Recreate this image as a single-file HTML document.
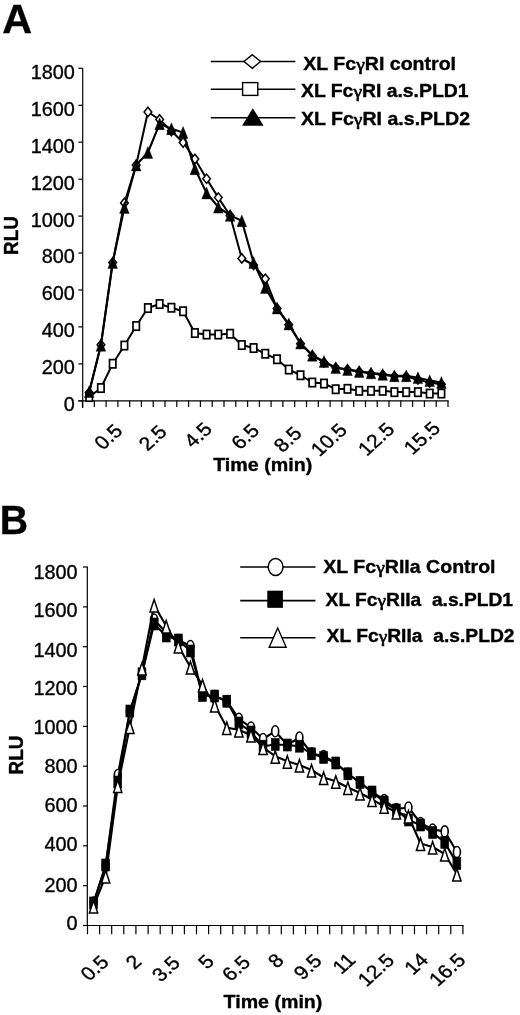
<!DOCTYPE html>
<html lang="en"><head><meta charset="utf-8"><title>Figure: RLU time course</title>
<style>html,body{margin:0;padding:0;background:#fff}body{width:520px;height:1015px;overflow:hidden}svg{display:block}text{font-family:'Liberation Sans', Arial, Helvetica, sans-serif;fill:#000;stroke:#000;stroke-width:.35px}.g{font-family:"Liberation Serif",serif;font-weight:400;stroke-width:.6px}</style>
</head><body>
<svg width="520" height="1015" viewBox="0 0 520 1015">
<rect width="520" height="1015" fill="#fff"/>
<g id="panelA">
<text font-size="41" font-weight="700" transform="translate(2.3 32.6) scale(1.01 1)">A</text>
<g stroke="#000" stroke-width="1.2" fill="none">
<path d="M82.7 68.3V408.0"/>
<path d="M78.4 400.8H448.6"/>
<path d="M78.4 400.8H82.7"/>
<path d="M78.4 363.9H82.7"/>
<path d="M78.4 326.9H82.7"/>
<path d="M78.4 290.0H82.7"/>
<path d="M78.4 253.0H82.7"/>
<path d="M78.4 216.1H82.7"/>
<path d="M78.4 179.2H82.7"/>
<path d="M78.4 142.2H82.7"/>
<path d="M78.4 105.3H82.7"/>
<path d="M78.4 68.3H82.7"/>
<path d="M82.5 400.8V407.1"/>
<path d="M94.3 400.8V407.1"/>
<path d="M106.1 400.8V407.1"/>
<path d="M117.9 400.8V407.1"/>
<path d="M129.7 400.8V407.1"/>
<path d="M141.4 400.8V407.1"/>
<path d="M153.2 400.8V407.1"/>
<path d="M165.0 400.8V407.1"/>
<path d="M176.8 400.8V407.1"/>
<path d="M188.6 400.8V407.1"/>
<path d="M200.4 400.8V407.1"/>
<path d="M212.2 400.8V407.1"/>
<path d="M224.0 400.8V407.1"/>
<path d="M235.8 400.8V407.1"/>
<path d="M247.6 400.8V407.1"/>
<path d="M259.4 400.8V407.1"/>
<path d="M271.1 400.8V407.1"/>
<path d="M282.9 400.8V407.1"/>
<path d="M294.7 400.8V407.1"/>
<path d="M306.5 400.8V407.1"/>
<path d="M318.3 400.8V407.1"/>
<path d="M330.1 400.8V407.1"/>
<path d="M341.9 400.8V407.1"/>
<path d="M353.7 400.8V407.1"/>
<path d="M365.5 400.8V407.1"/>
<path d="M377.2 400.8V407.1"/>
<path d="M389.0 400.8V407.1"/>
<path d="M400.8 400.8V407.1"/>
<path d="M412.6 400.8V407.1"/>
<path d="M424.4 400.8V407.1"/>
<path d="M436.2 400.8V407.1"/>
<path d="M448.0 400.8V407.1"/>
</g>
<text font-size="19.6" text-anchor="end" transform="translate(74.8 411.2) scale(1.013 1)">0</text>
<text font-size="19.6" text-anchor="end" transform="translate(74.8 374.3) scale(1.013 1)">200</text>
<text font-size="19.6" text-anchor="end" transform="translate(74.8 337.3) scale(1.013 1)">400</text>
<text font-size="19.6" text-anchor="end" transform="translate(74.8 300.4) scale(1.013 1)">600</text>
<text font-size="19.6" text-anchor="end" transform="translate(74.8 263.4) scale(1.013 1)">800</text>
<text font-size="19.6" text-anchor="end" transform="translate(74.8 226.5) scale(1.013 1)">1000</text>
<text font-size="19.6" text-anchor="end" transform="translate(74.8 189.6) scale(1.013 1)">1200</text>
<text font-size="19.6" text-anchor="end" transform="translate(74.8 152.6) scale(1.013 1)">1400</text>
<text font-size="19.6" text-anchor="end" transform="translate(74.8 115.7) scale(1.013 1)">1600</text>
<text font-size="19.6" text-anchor="end" transform="translate(74.8 78.7) scale(1.013 1)">1800</text>
<text font-size="18.9" font-weight="700" transform="translate(18.4 255.0) scale(1.04 1) rotate(-90)">RLU</text>
<text font-size="19.0" text-anchor="end" transform="translate(123.8 432.1) scale(1.11 1) rotate(-45)">0.5</text>
<text font-size="19.0" text-anchor="end" transform="translate(168.1 433.0) scale(1.11 1) rotate(-45)">2.5</text>
<text font-size="19.0" text-anchor="end" transform="translate(213.4 430.2) scale(1.11 1) rotate(-45)">4.5</text>
<text font-size="19.0" text-anchor="end" transform="translate(260.6 431.9) scale(1.11 1) rotate(-45)">6.5</text>
<text font-size="19.0" text-anchor="end" transform="translate(303.1 434.5) scale(1.11 1) rotate(-45)">8.5</text>
<text font-size="19.0" text-anchor="end" transform="translate(348.4 431.2) scale(1.11 1) rotate(-45)">10.5</text>
<text font-size="19.0" text-anchor="end" transform="translate(395.8 430.6) scale(1.11 1) rotate(-45)">12.5</text>
<text font-size="19.0" text-anchor="end" transform="translate(441.6 429.4) scale(1.11 1) rotate(-45)">15.5</text>
<text font-size="17.6" font-weight="700" transform="translate(213.2 471.3) scale(1.118 1)">Time (min)</text>
<polyline fill="none" stroke="#000" stroke-width="2.0" stroke-linejoin="round" points="89.2,392.5 100.9,344.8 112.7,262.5 124.4,203.0 136.2,165.0 147.9,112.0 159.6,119.5 171.4,131.0 183.1,142.5 194.9,159.0 206.6,178.8 218.3,197.6 230.1,215.5 241.8,258.5 253.6,265.0 265.3,278.8 277.0,308.4 288.8,324.8 300.5,343.8 312.3,355.5 324.0,362.5 335.7,367.7 347.5,369.6 359.2,371.5 371.0,373.5 382.7,374.8 394.4,376.3 406.2,376.5 417.9,379.6 429.7,382.6 441.4,384.2"/>
<path d="M89.2 387.9L93.0 392.5L89.2 397.1L85.4 392.5Z" fill="#fff" stroke="#000" stroke-width="1.5"/>
<path d="M100.9 340.2L104.8 344.8L100.9 349.4L97.1 344.8Z" fill="#fff" stroke="#000" stroke-width="1.5"/>
<path d="M112.7 257.9L116.5 262.5L112.7 267.1L108.8 262.5Z" fill="#fff" stroke="#000" stroke-width="1.5"/>
<path d="M124.4 198.3L128.3 203.0L124.4 207.7L120.6 203.0Z" fill="#fff" stroke="#000" stroke-width="1.5"/>
<path d="M136.2 160.3L140.0 165.0L136.2 169.7L132.3 165.0Z" fill="#fff" stroke="#000" stroke-width="1.5"/>
<path d="M147.9 107.3L151.8 112.0L147.9 116.7L144.1 112.0Z" fill="#fff" stroke="#000" stroke-width="1.5"/>
<path d="M159.6 114.8L163.5 119.5L159.6 124.2L155.8 119.5Z" fill="#fff" stroke="#000" stroke-width="1.5"/>
<path d="M171.4 126.3L175.2 131.0L171.4 135.7L167.5 131.0Z" fill="#fff" stroke="#000" stroke-width="1.5"/>
<path d="M183.1 137.8L187.0 142.5L183.1 147.2L179.3 142.5Z" fill="#fff" stroke="#000" stroke-width="1.5"/>
<path d="M194.9 154.3L198.7 159.0L194.9 163.7L191.0 159.0Z" fill="#fff" stroke="#000" stroke-width="1.5"/>
<path d="M206.6 174.1L210.4 178.8L206.6 183.4L202.8 178.8Z" fill="#fff" stroke="#000" stroke-width="1.5"/>
<path d="M218.3 192.9L222.2 197.6L218.3 202.2L214.5 197.6Z" fill="#fff" stroke="#000" stroke-width="1.5"/>
<path d="M230.1 210.8L233.9 215.5L230.1 220.2L226.2 215.5Z" fill="#fff" stroke="#000" stroke-width="1.5"/>
<path d="M241.8 253.8L245.7 258.5L241.8 263.1L238.0 258.5Z" fill="#fff" stroke="#000" stroke-width="1.5"/>
<path d="M253.6 260.4L257.4 265.0L253.6 269.6L249.7 265.0Z" fill="#fff" stroke="#000" stroke-width="1.5"/>
<path d="M265.3 274.1L269.2 278.8L265.3 283.4L261.4 278.8Z" fill="#fff" stroke="#000" stroke-width="1.5"/>
<path d="M277.0 303.8L280.9 308.4L277.0 313.0L273.2 308.4Z" fill="#fff" stroke="#000" stroke-width="1.5"/>
<path d="M288.8 320.2L292.6 324.8L288.8 329.4L284.9 324.8Z" fill="#fff" stroke="#000" stroke-width="1.5"/>
<path d="M300.5 339.1L304.4 343.8L300.5 348.4L296.7 343.8Z" fill="#fff" stroke="#000" stroke-width="1.5"/>
<path d="M312.3 350.9L316.1 355.5L312.3 360.1L308.4 355.5Z" fill="#fff" stroke="#000" stroke-width="1.5"/>
<path d="M324.0 357.9L327.9 362.5L324.0 367.1L320.1 362.5Z" fill="#fff" stroke="#000" stroke-width="1.5"/>
<path d="M335.7 363.1L339.6 367.7L335.7 372.3L331.9 367.7Z" fill="#fff" stroke="#000" stroke-width="1.5"/>
<path d="M347.5 365.0L351.3 369.6L347.5 374.2L343.6 369.6Z" fill="#fff" stroke="#000" stroke-width="1.5"/>
<path d="M359.2 366.9L363.1 371.5L359.2 376.1L355.4 371.5Z" fill="#fff" stroke="#000" stroke-width="1.5"/>
<path d="M371.0 368.9L374.8 373.5L371.0 378.1L367.1 373.5Z" fill="#fff" stroke="#000" stroke-width="1.5"/>
<path d="M382.7 370.2L386.6 374.8L382.7 379.4L378.8 374.8Z" fill="#fff" stroke="#000" stroke-width="1.5"/>
<path d="M394.4 371.7L398.3 376.3L394.4 380.9L390.6 376.3Z" fill="#fff" stroke="#000" stroke-width="1.5"/>
<path d="M406.2 371.9L410.0 376.5L406.2 381.1L402.3 376.5Z" fill="#fff" stroke="#000" stroke-width="1.5"/>
<path d="M417.9 375.0L421.8 379.6L417.9 384.2L414.1 379.6Z" fill="#fff" stroke="#000" stroke-width="1.5"/>
<path d="M429.7 378.0L433.5 382.6L429.7 387.2L425.8 382.6Z" fill="#fff" stroke="#000" stroke-width="1.5"/>
<path d="M441.4 379.6L445.2 384.2L441.4 388.8L437.5 384.2Z" fill="#fff" stroke="#000" stroke-width="1.5"/>
<polyline fill="none" stroke="#000" stroke-width="2.0" stroke-linejoin="round" points="89.2,397.0 100.9,388.0 112.7,363.8 124.4,345.5 136.2,326.0 147.9,308.0 159.6,304.0 171.4,307.8 183.1,311.2 194.9,333.0 206.6,334.5 218.3,334.5 230.1,333.8 241.8,345.0 253.6,348.0 265.3,353.8 277.0,359.2 288.8,369.5 300.5,375.2 312.3,382.5 324.0,383.5 335.7,389.2 347.5,388.8 359.2,390.8 371.0,390.8 382.7,390.8 394.4,392.1 406.2,392.1 417.9,392.1 429.7,393.5 441.4,393.5"/>
<rect x="86.0" y="392.9" width="6.4" height="8.3" fill="#fff" stroke="#000" stroke-width="1.7"/>
<rect x="97.7" y="383.9" width="6.4" height="8.3" fill="#fff" stroke="#000" stroke-width="1.7"/>
<rect x="109.5" y="359.6" width="6.4" height="8.3" fill="#fff" stroke="#000" stroke-width="1.7"/>
<rect x="121.2" y="341.4" width="6.4" height="8.3" fill="#fff" stroke="#000" stroke-width="1.7"/>
<rect x="133.0" y="321.9" width="6.4" height="8.3" fill="#fff" stroke="#000" stroke-width="1.7"/>
<rect x="144.7" y="303.9" width="6.4" height="8.3" fill="#fff" stroke="#000" stroke-width="1.7"/>
<rect x="156.4" y="299.9" width="6.4" height="8.3" fill="#fff" stroke="#000" stroke-width="1.7"/>
<rect x="168.2" y="303.6" width="6.4" height="8.3" fill="#fff" stroke="#000" stroke-width="1.7"/>
<rect x="179.9" y="307.1" width="6.4" height="8.3" fill="#fff" stroke="#000" stroke-width="1.7"/>
<rect x="191.7" y="328.9" width="6.4" height="8.3" fill="#fff" stroke="#000" stroke-width="1.7"/>
<rect x="203.4" y="330.4" width="6.4" height="8.3" fill="#fff" stroke="#000" stroke-width="1.7"/>
<rect x="215.1" y="330.4" width="6.4" height="8.3" fill="#fff" stroke="#000" stroke-width="1.7"/>
<rect x="226.9" y="329.6" width="6.4" height="8.3" fill="#fff" stroke="#000" stroke-width="1.7"/>
<rect x="238.6" y="340.9" width="6.4" height="8.3" fill="#fff" stroke="#000" stroke-width="1.7"/>
<rect x="250.4" y="343.9" width="6.4" height="8.3" fill="#fff" stroke="#000" stroke-width="1.7"/>
<rect x="262.1" y="349.6" width="6.4" height="8.3" fill="#fff" stroke="#000" stroke-width="1.7"/>
<rect x="273.8" y="355.1" width="6.4" height="8.3" fill="#fff" stroke="#000" stroke-width="1.7"/>
<rect x="285.6" y="365.4" width="6.4" height="8.3" fill="#fff" stroke="#000" stroke-width="1.7"/>
<rect x="297.3" y="371.1" width="6.4" height="8.3" fill="#fff" stroke="#000" stroke-width="1.7"/>
<rect x="309.1" y="378.4" width="6.4" height="8.3" fill="#fff" stroke="#000" stroke-width="1.7"/>
<rect x="320.8" y="379.4" width="6.4" height="8.3" fill="#fff" stroke="#000" stroke-width="1.7"/>
<rect x="332.5" y="385.1" width="6.4" height="8.3" fill="#fff" stroke="#000" stroke-width="1.7"/>
<rect x="344.3" y="384.7" width="6.4" height="8.3" fill="#fff" stroke="#000" stroke-width="1.7"/>
<rect x="356.0" y="386.7" width="6.4" height="8.3" fill="#fff" stroke="#000" stroke-width="1.7"/>
<rect x="367.8" y="386.7" width="6.4" height="8.3" fill="#fff" stroke="#000" stroke-width="1.7"/>
<rect x="379.5" y="386.7" width="6.4" height="8.3" fill="#fff" stroke="#000" stroke-width="1.7"/>
<rect x="391.2" y="388.0" width="6.4" height="8.3" fill="#fff" stroke="#000" stroke-width="1.7"/>
<rect x="403.0" y="388.0" width="6.4" height="8.3" fill="#fff" stroke="#000" stroke-width="1.7"/>
<rect x="414.7" y="388.0" width="6.4" height="8.3" fill="#fff" stroke="#000" stroke-width="1.7"/>
<rect x="426.5" y="389.4" width="6.4" height="8.3" fill="#fff" stroke="#000" stroke-width="1.7"/>
<rect x="438.2" y="389.4" width="6.4" height="8.3" fill="#fff" stroke="#000" stroke-width="1.7"/>
<polyline fill="none" stroke="#000" stroke-width="2.1" stroke-linejoin="round" points="89.2,391.6 100.9,345.4 112.7,262.5 124.4,207.5 136.2,165.0 147.9,152.5 159.6,123.8 171.4,128.8 183.1,132.5 194.9,168.8 206.6,193.0 218.3,207.2 230.1,215.4 241.8,220.8 253.6,262.5 265.3,287.5 277.0,308.0 288.8,324.0 300.5,343.0 312.3,355.3 324.0,361.5 335.7,367.7 347.5,369.6 359.2,371.5 371.0,372.9 382.7,374.4 394.4,375.8 406.2,375.8 417.9,377.7 429.7,380.6 441.4,382.5"/>
<path d="M89.2 385.7L94.0 397.5L84.4 397.5Z" fill="#000" stroke="#000" stroke-width="0.4" stroke-linejoin="miter"/>
<path d="M100.9 339.5L105.7 351.3L96.1 351.3Z" fill="#000" stroke="#000" stroke-width="0.4" stroke-linejoin="miter"/>
<path d="M112.7 256.6L117.5 268.4L107.9 268.4Z" fill="#000" stroke="#000" stroke-width="0.4" stroke-linejoin="miter"/>
<path d="M124.4 201.6L129.2 213.4L119.6 213.4Z" fill="#000" stroke="#000" stroke-width="0.4" stroke-linejoin="miter"/>
<path d="M136.2 159.1L141.0 170.9L131.4 170.9Z" fill="#000" stroke="#000" stroke-width="0.4" stroke-linejoin="miter"/>
<path d="M147.9 146.6L152.7 158.4L143.1 158.4Z" fill="#000" stroke="#000" stroke-width="0.4" stroke-linejoin="miter"/>
<path d="M159.6 117.8L164.4 129.7L154.8 129.7Z" fill="#000" stroke="#000" stroke-width="0.4" stroke-linejoin="miter"/>
<path d="M171.4 122.8L176.2 134.7L166.6 134.7Z" fill="#000" stroke="#000" stroke-width="0.4" stroke-linejoin="miter"/>
<path d="M183.1 126.6L187.9 138.4L178.3 138.4Z" fill="#000" stroke="#000" stroke-width="0.4" stroke-linejoin="miter"/>
<path d="M194.9 162.8L199.7 174.7L190.1 174.7Z" fill="#000" stroke="#000" stroke-width="0.4" stroke-linejoin="miter"/>
<path d="M206.6 187.1L211.4 198.9L201.8 198.9Z" fill="#000" stroke="#000" stroke-width="0.4" stroke-linejoin="miter"/>
<path d="M218.3 201.3L223.1 213.1L213.5 213.1Z" fill="#000" stroke="#000" stroke-width="0.4" stroke-linejoin="miter"/>
<path d="M230.1 209.5L234.9 221.3L225.3 221.3Z" fill="#000" stroke="#000" stroke-width="0.4" stroke-linejoin="miter"/>
<path d="M241.8 214.9L246.6 226.7L237.0 226.7Z" fill="#000" stroke="#000" stroke-width="0.4" stroke-linejoin="miter"/>
<path d="M253.6 256.6L258.4 268.4L248.8 268.4Z" fill="#000" stroke="#000" stroke-width="0.4" stroke-linejoin="miter"/>
<path d="M265.3 281.6L270.1 293.4L260.5 293.4Z" fill="#000" stroke="#000" stroke-width="0.4" stroke-linejoin="miter"/>
<path d="M277.0 302.1L281.8 313.9L272.2 313.9Z" fill="#000" stroke="#000" stroke-width="0.4" stroke-linejoin="miter"/>
<path d="M288.8 318.1L293.6 329.9L284.0 329.9Z" fill="#000" stroke="#000" stroke-width="0.4" stroke-linejoin="miter"/>
<path d="M300.5 337.1L305.3 348.9L295.7 348.9Z" fill="#000" stroke="#000" stroke-width="0.4" stroke-linejoin="miter"/>
<path d="M312.3 349.4L317.1 361.2L307.5 361.2Z" fill="#000" stroke="#000" stroke-width="0.4" stroke-linejoin="miter"/>
<path d="M324.0 355.6L328.8 367.4L319.2 367.4Z" fill="#000" stroke="#000" stroke-width="0.4" stroke-linejoin="miter"/>
<path d="M335.7 361.8L340.5 373.6L330.9 373.6Z" fill="#000" stroke="#000" stroke-width="0.4" stroke-linejoin="miter"/>
<path d="M347.5 363.7L352.3 375.5L342.7 375.5Z" fill="#000" stroke="#000" stroke-width="0.4" stroke-linejoin="miter"/>
<path d="M359.2 365.6L364.0 377.4L354.4 377.4Z" fill="#000" stroke="#000" stroke-width="0.4" stroke-linejoin="miter"/>
<path d="M371.0 367.0L375.8 378.8L366.2 378.8Z" fill="#000" stroke="#000" stroke-width="0.4" stroke-linejoin="miter"/>
<path d="M382.7 368.5L387.5 380.3L377.9 380.3Z" fill="#000" stroke="#000" stroke-width="0.4" stroke-linejoin="miter"/>
<path d="M394.4 369.9L399.2 381.7L389.6 381.7Z" fill="#000" stroke="#000" stroke-width="0.4" stroke-linejoin="miter"/>
<path d="M406.2 369.9L411.0 381.7L401.4 381.7Z" fill="#000" stroke="#000" stroke-width="0.4" stroke-linejoin="miter"/>
<path d="M417.9 371.8L422.7 383.6L413.1 383.6Z" fill="#000" stroke="#000" stroke-width="0.4" stroke-linejoin="miter"/>
<path d="M429.7 374.7L434.5 386.5L424.9 386.5Z" fill="#000" stroke="#000" stroke-width="0.4" stroke-linejoin="miter"/>
<path d="M441.4 376.6L446.2 388.4L436.6 388.4Z" fill="#000" stroke="#000" stroke-width="0.4" stroke-linejoin="miter"/>
<g stroke="#000" stroke-width="1.6"><path d="M210.8 61.5H295.4"/><path d="M210.8 89.2H295.4"/><path d="M210.8 117.8H295.4"/></g>
<path d="M252.3 54.7L260.6 61.5L252.3 68.3L244.0 61.5Z" fill="#fff" stroke="#000" stroke-width="1.4"/>
<rect x="242.6" y="82.6" width="15.2" height="12.8" fill="#fff" stroke="#000" stroke-width="1.4"/>
<path d="M252.8 109.5L262.3 125.0L243.3 125.0Z" fill="#000" stroke="#000" stroke-width="1.4" stroke-linejoin="miter"/>
<text font-size="17.5" font-weight="700" transform="translate(303.3 69.8) scale(1.117 1)">XL Fc<tspan class="g">γ</tspan>RI control</text>
<text font-size="17.5" font-weight="700" transform="translate(301.0 97.0) scale(1.107 1)">XL Fc<tspan class="g">γ</tspan>RI a.s.PLD1</text>
<text font-size="17.5" font-weight="700" transform="translate(301.0 124.7) scale(1.117 1)">XL Fc<tspan class="g">γ</tspan>RI a.s.PLD2</text>
</g>
<g id="panelB">
<text font-size="40.5" font-weight="700" transform="translate(-0.3 534.2) scale(0.97 1)">B</text>
<g stroke="#000" stroke-width="1.2" fill="none">
<path d="M87.3 566.5V925.5"/>
<path d="M83.0 925.5H463.6"/>
<path d="M83.0 925.5H87.3"/>
<path d="M83.0 885.7H87.3"/>
<path d="M83.0 845.8H87.3"/>
<path d="M83.0 806.0H87.3"/>
<path d="M83.0 766.2H87.3"/>
<path d="M83.0 726.4H87.3"/>
<path d="M83.0 686.5H87.3"/>
<path d="M83.0 646.7H87.3"/>
<path d="M83.0 606.9H87.3"/>
<path d="M83.0 567.0H87.3"/>
<path d="M87.5 925.5V934.2"/>
<path d="M99.6 925.5V934.2"/>
<path d="M111.7 925.5V934.2"/>
<path d="M123.8 925.5V934.2"/>
<path d="M135.9 925.5V934.2"/>
<path d="M148.1 925.5V934.2"/>
<path d="M160.2 925.5V934.2"/>
<path d="M172.3 925.5V934.2"/>
<path d="M184.4 925.5V934.2"/>
<path d="M196.5 925.5V934.2"/>
<path d="M208.6 925.5V934.2"/>
<path d="M220.7 925.5V934.2"/>
<path d="M232.8 925.5V934.2"/>
<path d="M244.9 925.5V934.2"/>
<path d="M257.0 925.5V934.2"/>
<path d="M269.1 925.5V934.2"/>
<path d="M281.3 925.5V934.2"/>
<path d="M293.4 925.5V934.2"/>
<path d="M305.5 925.5V934.2"/>
<path d="M317.6 925.5V934.2"/>
<path d="M329.7 925.5V934.2"/>
<path d="M341.8 925.5V934.2"/>
<path d="M353.9 925.5V934.2"/>
<path d="M366.0 925.5V934.2"/>
<path d="M378.1 925.5V934.2"/>
<path d="M390.2 925.5V934.2"/>
<path d="M402.4 925.5V934.2"/>
<path d="M414.5 925.5V934.2"/>
<path d="M426.6 925.5V934.2"/>
<path d="M438.7 925.5V934.2"/>
<path d="M450.8 925.5V934.2"/>
<path d="M462.9 925.5V934.2"/>
</g>
<text font-size="19.6" text-anchor="end" transform="translate(77.6 929.7) scale(1.013 1)">0</text>
<text font-size="19.6" text-anchor="end" transform="translate(77.6 891.7) scale(1.013 1)">200</text>
<text font-size="19.6" text-anchor="end" transform="translate(77.6 850.9) scale(1.013 1)">400</text>
<text font-size="19.6" text-anchor="end" transform="translate(77.6 812.2) scale(1.013 1)">600</text>
<text font-size="19.6" text-anchor="end" transform="translate(77.6 772.9) scale(1.013 1)">800</text>
<text font-size="19.6" text-anchor="end" transform="translate(77.6 734.4) scale(1.013 1)">1000</text>
<text font-size="19.6" text-anchor="end" transform="translate(77.6 694.6) scale(1.013 1)">1200</text>
<text font-size="19.6" text-anchor="end" transform="translate(77.6 656.6) scale(1.013 1)">1400</text>
<text font-size="19.6" text-anchor="end" transform="translate(77.6 616.6) scale(1.013 1)">1600</text>
<text font-size="19.6" text-anchor="end" transform="translate(77.6 579.3) scale(1.013 1)">1800</text>
<text font-size="18.9" font-weight="700" transform="translate(23.0 774.4) scale(1.04 1) rotate(-90)">RLU</text>
<text font-size="19.0" text-anchor="end" transform="translate(110.0 963.2) scale(1.11 1) rotate(-45)">0.5</text>
<text font-size="19.0" text-anchor="end" transform="translate(142.9 962.8) scale(1.11 1) rotate(-45)">2</text>
<text font-size="19.0" text-anchor="end" transform="translate(181.4 964.0) scale(1.11 1) rotate(-45)">3.5</text>
<text font-size="19.0" text-anchor="end" transform="translate(215.4 962.6) scale(1.11 1) rotate(-45)">5</text>
<text font-size="19.0" text-anchor="end" transform="translate(251.5 963.5) scale(1.11 1) rotate(-45)">6.5</text>
<text font-size="19.0" text-anchor="end" transform="translate(285.0 961.6) scale(1.11 1) rotate(-45)">8</text>
<text font-size="19.0" text-anchor="end" transform="translate(323.1 962.1) scale(1.11 1) rotate(-45)">9.5</text>
<text font-size="19.0" text-anchor="end" transform="translate(356.8 961.1) scale(1.11 1) rotate(-45)">11</text>
<text font-size="19.0" text-anchor="end" transform="translate(395.5 961.4) scale(1.11 1) rotate(-45)">12.5</text>
<text font-size="19.0" text-anchor="end" transform="translate(429.5 960.9) scale(1.11 1) rotate(-45)">14</text>
<text font-size="19.0" text-anchor="end" transform="translate(466.8 961.2) scale(1.11 1) rotate(-45)">16.5</text>
<text font-size="17.6" font-weight="700" transform="translate(223.6 1007.6) scale(1.114 1)">Time (min)</text>
<polyline fill="none" stroke="#000" stroke-width="2.1" stroke-linejoin="round" points="93.6,902.5 105.7,865.5 117.8,775.0 129.9,711.5 142.0,673.5 154.1,619.5 166.2,633.0 178.3,640.0 190.4,646.0 202.5,695.0 214.7,696.0 226.8,701.2 238.9,718.8 251.0,727.5 263.1,739.0 275.2,731.2 287.3,745.0 299.4,737.5 311.5,753.5 323.6,756.0 335.8,763.0 347.9,773.8 360.0,782.5 372.1,792.0 384.2,800.0 396.3,809.0 408.4,807.5 420.5,823.0 432.6,829.5 444.7,831.4 456.9,852.0"/>
<ellipse cx="93.6" cy="902.5" rx="3.5" ry="5.5" fill="#fff" stroke="#000" stroke-width="1.6"/>
<ellipse cx="105.7" cy="865.5" rx="3.5" ry="5.5" fill="#fff" stroke="#000" stroke-width="1.6"/>
<ellipse cx="117.8" cy="775.0" rx="3.5" ry="5.5" fill="#fff" stroke="#000" stroke-width="1.6"/>
<ellipse cx="129.9" cy="711.5" rx="3.5" ry="5.5" fill="#fff" stroke="#000" stroke-width="1.6"/>
<ellipse cx="142.0" cy="673.5" rx="3.5" ry="5.5" fill="#fff" stroke="#000" stroke-width="1.6"/>
<ellipse cx="154.1" cy="619.5" rx="3.5" ry="5.5" fill="#fff" stroke="#000" stroke-width="1.6"/>
<ellipse cx="166.2" cy="633.0" rx="3.5" ry="5.5" fill="#fff" stroke="#000" stroke-width="1.6"/>
<ellipse cx="178.3" cy="640.0" rx="3.5" ry="5.5" fill="#fff" stroke="#000" stroke-width="1.6"/>
<ellipse cx="190.4" cy="646.0" rx="3.5" ry="5.5" fill="#fff" stroke="#000" stroke-width="1.6"/>
<ellipse cx="202.5" cy="695.0" rx="3.5" ry="5.5" fill="#fff" stroke="#000" stroke-width="1.6"/>
<ellipse cx="214.7" cy="696.0" rx="3.5" ry="5.5" fill="#fff" stroke="#000" stroke-width="1.6"/>
<ellipse cx="226.8" cy="701.2" rx="3.5" ry="5.5" fill="#fff" stroke="#000" stroke-width="1.6"/>
<ellipse cx="238.9" cy="718.8" rx="3.5" ry="5.5" fill="#fff" stroke="#000" stroke-width="1.6"/>
<ellipse cx="251.0" cy="727.5" rx="3.5" ry="5.5" fill="#fff" stroke="#000" stroke-width="1.6"/>
<ellipse cx="263.1" cy="739.0" rx="3.5" ry="5.5" fill="#fff" stroke="#000" stroke-width="1.6"/>
<ellipse cx="275.2" cy="731.2" rx="3.5" ry="5.5" fill="#fff" stroke="#000" stroke-width="1.6"/>
<ellipse cx="287.3" cy="745.0" rx="3.5" ry="5.5" fill="#fff" stroke="#000" stroke-width="1.6"/>
<ellipse cx="299.4" cy="737.5" rx="3.5" ry="5.5" fill="#fff" stroke="#000" stroke-width="1.6"/>
<ellipse cx="311.5" cy="753.5" rx="3.5" ry="5.5" fill="#fff" stroke="#000" stroke-width="1.6"/>
<ellipse cx="323.6" cy="756.0" rx="3.5" ry="5.5" fill="#fff" stroke="#000" stroke-width="1.6"/>
<ellipse cx="335.8" cy="763.0" rx="3.5" ry="5.5" fill="#fff" stroke="#000" stroke-width="1.6"/>
<ellipse cx="347.9" cy="773.8" rx="3.5" ry="5.5" fill="#fff" stroke="#000" stroke-width="1.6"/>
<ellipse cx="360.0" cy="782.5" rx="3.5" ry="5.5" fill="#fff" stroke="#000" stroke-width="1.6"/>
<ellipse cx="372.1" cy="792.0" rx="3.5" ry="5.5" fill="#fff" stroke="#000" stroke-width="1.6"/>
<ellipse cx="384.2" cy="800.0" rx="3.5" ry="5.5" fill="#fff" stroke="#000" stroke-width="1.6"/>
<ellipse cx="396.3" cy="809.0" rx="3.5" ry="5.5" fill="#fff" stroke="#000" stroke-width="1.6"/>
<ellipse cx="408.4" cy="807.5" rx="3.5" ry="5.5" fill="#fff" stroke="#000" stroke-width="1.6"/>
<ellipse cx="420.5" cy="823.0" rx="3.5" ry="5.5" fill="#fff" stroke="#000" stroke-width="1.6"/>
<ellipse cx="432.6" cy="829.5" rx="3.5" ry="5.5" fill="#fff" stroke="#000" stroke-width="1.6"/>
<ellipse cx="444.7" cy="831.4" rx="3.5" ry="5.5" fill="#fff" stroke="#000" stroke-width="1.6"/>
<ellipse cx="456.9" cy="852.0" rx="3.5" ry="5.5" fill="#fff" stroke="#000" stroke-width="1.6"/>
<polyline fill="none" stroke="#000" stroke-width="2.1" stroke-linejoin="round" points="93.6,903.0 105.7,865.0 117.8,782.0 129.9,711.0 142.0,673.8 154.1,624.0 166.2,636.0 178.3,640.0 190.4,651.0 202.5,695.5 214.7,696.0 226.8,701.2 238.9,723.0 251.0,732.0 263.1,746.2 275.2,744.5 287.3,745.0 299.4,746.2 311.5,753.8 323.6,757.5 335.8,763.0 347.9,773.8 360.0,782.5 372.1,792.0 384.2,802.0 396.3,810.0 408.4,820.0 420.5,825.0 432.6,832.5 444.7,842.4 456.9,863.5"/>
<rect x="89.6" y="897.0" width="7.9" height="12.0" fill="#000" stroke="#000" stroke-width="0.6"/>
<rect x="101.7" y="859.0" width="7.9" height="12.0" fill="#000" stroke="#000" stroke-width="0.6"/>
<rect x="113.8" y="776.0" width="7.9" height="12.0" fill="#000" stroke="#000" stroke-width="0.6"/>
<rect x="125.9" y="705.0" width="7.9" height="12.0" fill="#000" stroke="#000" stroke-width="0.6"/>
<rect x="138.0" y="667.8" width="7.9" height="12.0" fill="#000" stroke="#000" stroke-width="0.6"/>
<rect x="150.2" y="618.0" width="7.9" height="12.0" fill="#000" stroke="#000" stroke-width="0.6"/>
<rect x="162.3" y="630.0" width="7.9" height="12.0" fill="#000" stroke="#000" stroke-width="0.6"/>
<rect x="174.4" y="634.0" width="7.9" height="12.0" fill="#000" stroke="#000" stroke-width="0.6"/>
<rect x="186.5" y="645.0" width="7.9" height="12.0" fill="#000" stroke="#000" stroke-width="0.6"/>
<rect x="198.6" y="689.5" width="7.9" height="12.0" fill="#000" stroke="#000" stroke-width="0.6"/>
<rect x="210.7" y="690.0" width="7.9" height="12.0" fill="#000" stroke="#000" stroke-width="0.6"/>
<rect x="222.8" y="695.2" width="7.9" height="12.0" fill="#000" stroke="#000" stroke-width="0.6"/>
<rect x="234.9" y="717.0" width="7.9" height="12.0" fill="#000" stroke="#000" stroke-width="0.6"/>
<rect x="247.0" y="726.0" width="7.9" height="12.0" fill="#000" stroke="#000" stroke-width="0.6"/>
<rect x="259.1" y="740.2" width="7.9" height="12.0" fill="#000" stroke="#000" stroke-width="0.6"/>
<rect x="271.3" y="738.5" width="7.9" height="12.0" fill="#000" stroke="#000" stroke-width="0.6"/>
<rect x="283.4" y="739.0" width="7.9" height="12.0" fill="#000" stroke="#000" stroke-width="0.6"/>
<rect x="295.5" y="740.2" width="7.9" height="12.0" fill="#000" stroke="#000" stroke-width="0.6"/>
<rect x="307.6" y="747.8" width="7.9" height="12.0" fill="#000" stroke="#000" stroke-width="0.6"/>
<rect x="319.7" y="751.5" width="7.9" height="12.0" fill="#000" stroke="#000" stroke-width="0.6"/>
<rect x="331.8" y="757.0" width="7.9" height="12.0" fill="#000" stroke="#000" stroke-width="0.6"/>
<rect x="343.9" y="767.8" width="7.9" height="12.0" fill="#000" stroke="#000" stroke-width="0.6"/>
<rect x="356.0" y="776.5" width="7.9" height="12.0" fill="#000" stroke="#000" stroke-width="0.6"/>
<rect x="368.1" y="786.0" width="7.9" height="12.0" fill="#000" stroke="#000" stroke-width="0.6"/>
<rect x="380.2" y="796.0" width="7.9" height="12.0" fill="#000" stroke="#000" stroke-width="0.6"/>
<rect x="392.4" y="804.0" width="7.9" height="12.0" fill="#000" stroke="#000" stroke-width="0.6"/>
<rect x="404.5" y="814.0" width="7.9" height="12.0" fill="#000" stroke="#000" stroke-width="0.6"/>
<rect x="416.6" y="819.0" width="7.9" height="12.0" fill="#000" stroke="#000" stroke-width="0.6"/>
<rect x="428.7" y="826.5" width="7.9" height="12.0" fill="#000" stroke="#000" stroke-width="0.6"/>
<rect x="440.8" y="836.4" width="7.9" height="12.0" fill="#000" stroke="#000" stroke-width="0.6"/>
<rect x="452.9" y="857.5" width="7.9" height="12.0" fill="#000" stroke="#000" stroke-width="0.6"/>
<polyline fill="none" stroke="#000" stroke-width="2.1" stroke-linejoin="round" points="93.6,906.0 105.7,876.0 117.8,785.5 129.9,726.5 142.0,668.0 154.1,605.0 166.2,626.0 178.3,646.0 190.4,667.0 202.5,685.0 214.7,705.0 226.8,727.5 238.9,730.0 251.0,735.0 263.1,747.5 275.2,756.2 287.3,761.2 299.4,765.0 311.5,770.0 323.6,777.5 335.8,781.2 347.9,787.5 360.0,793.0 372.1,799.5 384.2,806.3 396.3,812.0 408.4,816.0 420.5,843.5 432.6,847.0 444.7,854.0 456.9,874.0"/>
<path d="M93.6 900.5L97.7 912.9L89.4 912.9Z" fill="#fff" stroke="#000" stroke-width="1.5" stroke-linejoin="miter"/>
<path d="M105.7 870.5L109.8 882.9L101.5 882.9Z" fill="#fff" stroke="#000" stroke-width="1.5" stroke-linejoin="miter"/>
<path d="M117.8 780.0L121.9 792.4L113.6 792.4Z" fill="#fff" stroke="#000" stroke-width="1.5" stroke-linejoin="miter"/>
<path d="M129.9 721.0L134.0 733.4L125.7 733.4Z" fill="#fff" stroke="#000" stroke-width="1.5" stroke-linejoin="miter"/>
<path d="M142.0 662.5L146.1 674.9L137.8 674.9Z" fill="#fff" stroke="#000" stroke-width="1.5" stroke-linejoin="miter"/>
<path d="M154.1 599.5L158.3 611.9L150.0 611.9Z" fill="#fff" stroke="#000" stroke-width="1.5" stroke-linejoin="miter"/>
<path d="M166.2 620.5L170.4 632.9L162.1 632.9Z" fill="#fff" stroke="#000" stroke-width="1.5" stroke-linejoin="miter"/>
<path d="M178.3 640.5L182.5 652.9L174.2 652.9Z" fill="#fff" stroke="#000" stroke-width="1.5" stroke-linejoin="miter"/>
<path d="M190.4 661.5L194.6 673.9L186.3 673.9Z" fill="#fff" stroke="#000" stroke-width="1.5" stroke-linejoin="miter"/>
<path d="M202.5 679.5L206.7 691.9L198.4 691.9Z" fill="#fff" stroke="#000" stroke-width="1.5" stroke-linejoin="miter"/>
<path d="M214.7 699.5L218.8 711.9L210.5 711.9Z" fill="#fff" stroke="#000" stroke-width="1.5" stroke-linejoin="miter"/>
<path d="M226.8 722.0L230.9 734.4L222.6 734.4Z" fill="#fff" stroke="#000" stroke-width="1.5" stroke-linejoin="miter"/>
<path d="M238.9 724.5L243.0 736.9L234.7 736.9Z" fill="#fff" stroke="#000" stroke-width="1.5" stroke-linejoin="miter"/>
<path d="M251.0 729.5L255.1 741.9L246.8 741.9Z" fill="#fff" stroke="#000" stroke-width="1.5" stroke-linejoin="miter"/>
<path d="M263.1 742.0L267.2 754.4L258.9 754.4Z" fill="#fff" stroke="#000" stroke-width="1.5" stroke-linejoin="miter"/>
<path d="M275.2 750.8L279.4 763.2L271.1 763.2Z" fill="#fff" stroke="#000" stroke-width="1.5" stroke-linejoin="miter"/>
<path d="M287.3 755.8L291.5 768.2L283.2 768.2Z" fill="#fff" stroke="#000" stroke-width="1.5" stroke-linejoin="miter"/>
<path d="M299.4 759.5L303.6 771.9L295.3 771.9Z" fill="#fff" stroke="#000" stroke-width="1.5" stroke-linejoin="miter"/>
<path d="M311.5 764.5L315.7 776.9L307.4 776.9Z" fill="#fff" stroke="#000" stroke-width="1.5" stroke-linejoin="miter"/>
<path d="M323.6 772.0L327.8 784.4L319.5 784.4Z" fill="#fff" stroke="#000" stroke-width="1.5" stroke-linejoin="miter"/>
<path d="M335.8 775.8L339.9 788.2L331.6 788.2Z" fill="#fff" stroke="#000" stroke-width="1.5" stroke-linejoin="miter"/>
<path d="M347.9 782.0L352.0 794.4L343.7 794.4Z" fill="#fff" stroke="#000" stroke-width="1.5" stroke-linejoin="miter"/>
<path d="M360.0 787.5L364.1 799.9L355.8 799.9Z" fill="#fff" stroke="#000" stroke-width="1.5" stroke-linejoin="miter"/>
<path d="M372.1 794.0L376.2 806.4L367.9 806.4Z" fill="#fff" stroke="#000" stroke-width="1.5" stroke-linejoin="miter"/>
<path d="M384.2 800.8L388.3 813.2L380.0 813.2Z" fill="#fff" stroke="#000" stroke-width="1.5" stroke-linejoin="miter"/>
<path d="M396.3 806.5L400.5 818.9L392.2 818.9Z" fill="#fff" stroke="#000" stroke-width="1.5" stroke-linejoin="miter"/>
<path d="M408.4 810.5L412.6 822.9L404.3 822.9Z" fill="#fff" stroke="#000" stroke-width="1.5" stroke-linejoin="miter"/>
<path d="M420.5 838.0L424.7 850.4L416.4 850.4Z" fill="#fff" stroke="#000" stroke-width="1.5" stroke-linejoin="miter"/>
<path d="M432.6 841.5L436.8 853.9L428.5 853.9Z" fill="#fff" stroke="#000" stroke-width="1.5" stroke-linejoin="miter"/>
<path d="M444.7 848.5L448.9 860.9L440.6 860.9Z" fill="#fff" stroke="#000" stroke-width="1.5" stroke-linejoin="miter"/>
<path d="M456.9 868.5L461.0 880.9L452.7 880.9Z" fill="#fff" stroke="#000" stroke-width="1.5" stroke-linejoin="miter"/>
<g stroke="#000" stroke-width="1.6"><path d="M240.2 567H315.5"/><path d="M240.2 600.6H315.5"/><path d="M240.2 637.7H315.5"/></g>
<ellipse cx="275.6" cy="567.0" rx="7.4" ry="8.4" fill="#fff" stroke="#000" stroke-width="1.5"/>
<rect x="267.7" y="591.0" width="15.0" height="16.6" fill="#000" stroke="#000" stroke-width="0.6"/>
<path d="M277.7 628.0L286.2 647.2L269.2 647.2Z" fill="#fff" stroke="#000" stroke-width="1.4" stroke-linejoin="miter"/>
<text font-size="17.5" font-weight="700" transform="translate(323.3 573.2) scale(1.117 1)">XL Fc<tspan class="g">γ</tspan>RIIa Control</text>
<text font-size="17.5" font-weight="700" transform="translate(325.6 605.5) scale(1.098 1)">XL Fc<tspan class="g">γ</tspan>RIIa  a.s.PLD1</text>
<text font-size="17.5" font-weight="700" transform="translate(326.6 641.5) scale(1.101 1)">XL Fc<tspan class="g">γ</tspan>RIIa  a.s.PLD2</text>
</g>
</svg></body></html>
